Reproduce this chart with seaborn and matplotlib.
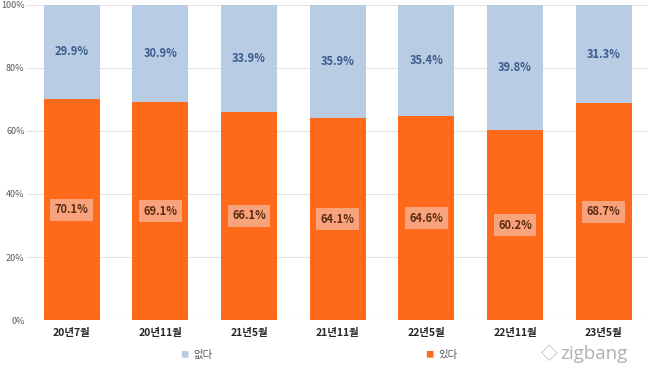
import matplotlib
matplotlib.use("Agg")
import matplotlib.pyplot as plt
import seaborn as sns
import pandas as pd
import numpy as np

periods = ['20년7월', '20년11월', '21년5월', '21년11월', '22년5월', '22년11월', '23년5월']
yes_vals = [70.1, 69.1, 66.1, 64.1, 64.6, 60.2, 68.7]   # 있다
no_vals = [29.9, 30.9, 33.9, 35.9, 35.4, 39.8, 31.3]    # 없다

orange = '#ff6a1a'
blue = '#b8cce4'

sns.set_style('white')
plt.rcParams['font.family'] = ['Noto Sans CJK KR', 'DejaVu Sans']

df = pd.DataFrame({'period': periods, 'yes': yes_vals, 'no': no_vals})
df['total'] = df['yes'] + df['no']

fig = plt.figure(figsize=(6.5, 3.7), dpi=100)
ax = fig.add_axes([0.042, 0.135, 0.955, 0.852])

sns.barplot(data=df, x='period', y='total', color=blue, width=0.63,
            saturation=1, ax=ax, linewidth=0, zorder=2)
sns.barplot(data=df, x='period', y='yes', color=orange, width=0.63,
            saturation=1, ax=ax, linewidth=0, zorder=3)

ax.set_ylim(0, 100)
ax.set_xlim(-0.5, len(periods) - 0.5)
ax.set_yticks(np.arange(0, 101, 20))
ax.set_yticklabels([f'{v}%' for v in range(0, 101, 20)], fontsize=6.5, color='#595959')
ax.tick_params(axis='x', length=0, pad=6)
ax.tick_params(axis='y', length=0, pad=2)
for lab in ax.get_xticklabels():
    lab.set_fontsize(7.5)
    lab.set_fontweight('bold')
    lab.set_color('#262626')
ax.set_xlabel('')
ax.set_ylabel('')
ax.yaxis.grid(True, color='#e3e3e3', linewidth=0.8, zorder=0)
ax.set_axisbelow(True)
for s in ax.spines.values():
    s.set_visible(False)
ax.axhline(0, color='#d0d0d0', linewidth=0.8, zorder=1)

for i, (y, n) in enumerate(zip(yes_vals, no_vals)):
    ax.text(i, y + n / 2, f'{n}%', ha='center', va='center', fontsize=8,
            fontweight='bold', color='#3b5b8c', zorder=5)
    ax.text(i, y / 2, f'{y}%', ha='center', va='center', fontsize=8,
            fontweight='bold', color='#5a2a12', zorder=5,
            bbox=dict(boxstyle='square,pad=0.4', fc='#f9a37c', ec='none'))

fig.text(0.283, 0.04, '■', color=blue, fontsize=6, ha='center', va='center')
fig.text(0.297, 0.04, '없다', color='#595959', fontsize=7.5, ha='left', va='center')
fig.text(0.660, 0.04, '■', color=orange, fontsize=6, ha='center', va='center')
fig.text(0.674, 0.04, '있다', color='#595959', fontsize=7.5, ha='left', va='center')

fig.text(0.845, 0.042, '◇', color='#b0b0b0', fontsize=12, ha='center', va='center')
fig.text(0.862, 0.042, 'zigbang', color='#b0b0b0', fontsize=13.5, ha='left', va='center',
         family=['Open Sans', 'DejaVu Sans'])

fig.savefig('out.png', dpi=100)
